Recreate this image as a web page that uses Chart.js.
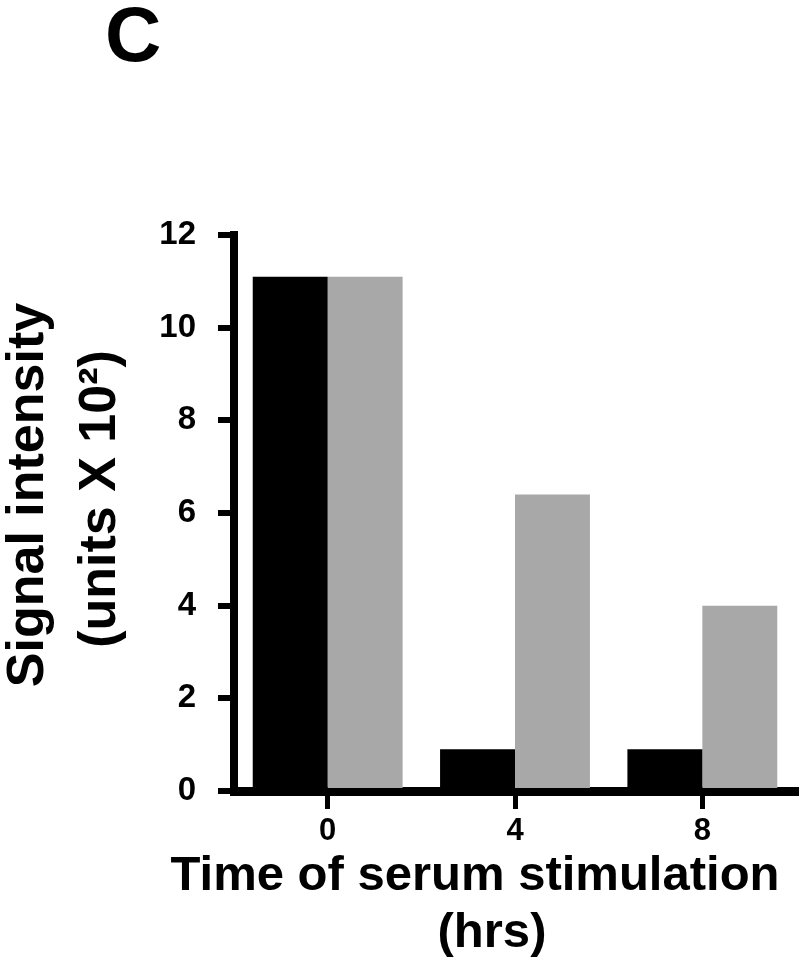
<!DOCTYPE html>
<html>
<head>
<meta charset="utf-8">
<script src="https://cdn.jsdelivr.net/npm/chart.js@4.4.0/dist/chart.umd.min.js"></script>
<style>
  html, body { margin: 0; padding: 0; background: #fff; }
  #wrap { width: 800px; height: 965px; position: relative; }
</style>
</head>
<body>
<div id="wrap"><canvas id="grafica"></canvas></div>
<script>
// data
const panelLetter = 'C';
const categories = ['0', '4', '8'];
const blackValues = [11.1, 0.9, 0.9];
const grayValues = [11.1, 6.4, 4.0];
const yTicks = [0, 2, 4, 6, 8, 10, 12];
const xTitle = ['Time of serum stimulation', '(hrs)'];
const yTitle = ['Signal intensity', '(units X 10\u00B2)'];

const FONT = '"Liberation Sans", Arial, Helvetica, sans-serif';
Chart.defaults.font.family = FONT;
Chart.defaults.color = '#000';

// titles and the panel letter, drawn where they sit in the figure
const textoEjes = {
    id: 'textoEjes',
    afterDraw(chart) {
        const ctx = chart.ctx;
        ctx.save();
        ctx.fillStyle = '#000';
        ctx.textBaseline = 'alphabetic';

        ctx.textAlign = 'left';
        ctx.font = 'bold 78px ' + FONT;
        ctx.fillText(panelLetter, 105, 61);

        ctx.textAlign = 'center';
        ctx.font = 'bold 49px ' + FONT;
        ctx.fillText(xTitle[0], 475, 890);
        ctx.fillText(xTitle[1], 492, 947);

        ctx.font = 'bold 52px ' + FONT;
        ctx.save();
        ctx.translate(43, 495);
        ctx.rotate(-Math.PI / 2);
        ctx.fillText(yTitle[0], 0, 0);
        ctx.restore();
        ctx.save();
        ctx.translate(115, 499);
        ctx.rotate(-Math.PI / 2);
        ctx.fillText(yTitle[1], 0, 0);
        ctx.restore();

        ctx.restore();
    }
};

function grafica() {
    const ctx = document.getElementById('grafica').getContext('2d');
    new Chart(ctx, {
        type: 'bar',
        data: {
            labels: categories,
            datasets: [{
                data: blackValues,
                backgroundColor: '#000000',
                borderWidth: 0,
                categoryPercentage: 0.8,
                barPercentage: 1.0
            }, {
                data: grayValues,
                backgroundColor: '#a8a8a8',
                borderWidth: 0,
                categoryPercentage: 0.8,
                barPercentage: 1.0
            }]
        },
        options: {
            responsive: true,
            maintainAspectRatio: false,
            animation: false,
            events: [],
            layout: { padding: { top: 235, right: 4, left: 0, bottom: 0 } },
            plugins: {
                legend: { display: false },
                tooltip: { enabled: false },
                title: { display: false }
            },
            scales: {
                x: {
                    offset: true,
                    grid: {
                        offset: false,
                        drawOnChartArea: false,
                        drawTicks: true,
                        tickLength: 18,
                        lineWidth: 5,
                        color: '#000'
                    },
                    border: { display: true, color: '#000', width: 9 },
                    ticks: {
                        padding: 4,
                        font: { size: 31, weight: 'bold' },
                        color: '#000',
                        maxRotation: 0
                    },
                    afterFit(scale) { scale.height = 174; }
                },
                y: {
                    min: yTicks[0],
                    max: yTicks[yTicks.length - 1],
                    grid: {
                        drawOnChartArea: false,
                        drawTicks: true,
                        tickLength: 16,
                        lineWidth: 6,
                        color: '#000'
                    },
                    border: { display: true, color: '#000', width: 8 },
                    ticks: {
                        stepSize: yTicks[1] - yTicks[0],
                        padding: 22,
                        font: { size: 33, weight: 'bold' },
                        color: '#000'
                    },
                    afterFit(scale) { scale.width = 234; }
                }
            }
        },
        plugins: [textoEjes]
    });
}

grafica();
</script>
</body>
</html>
